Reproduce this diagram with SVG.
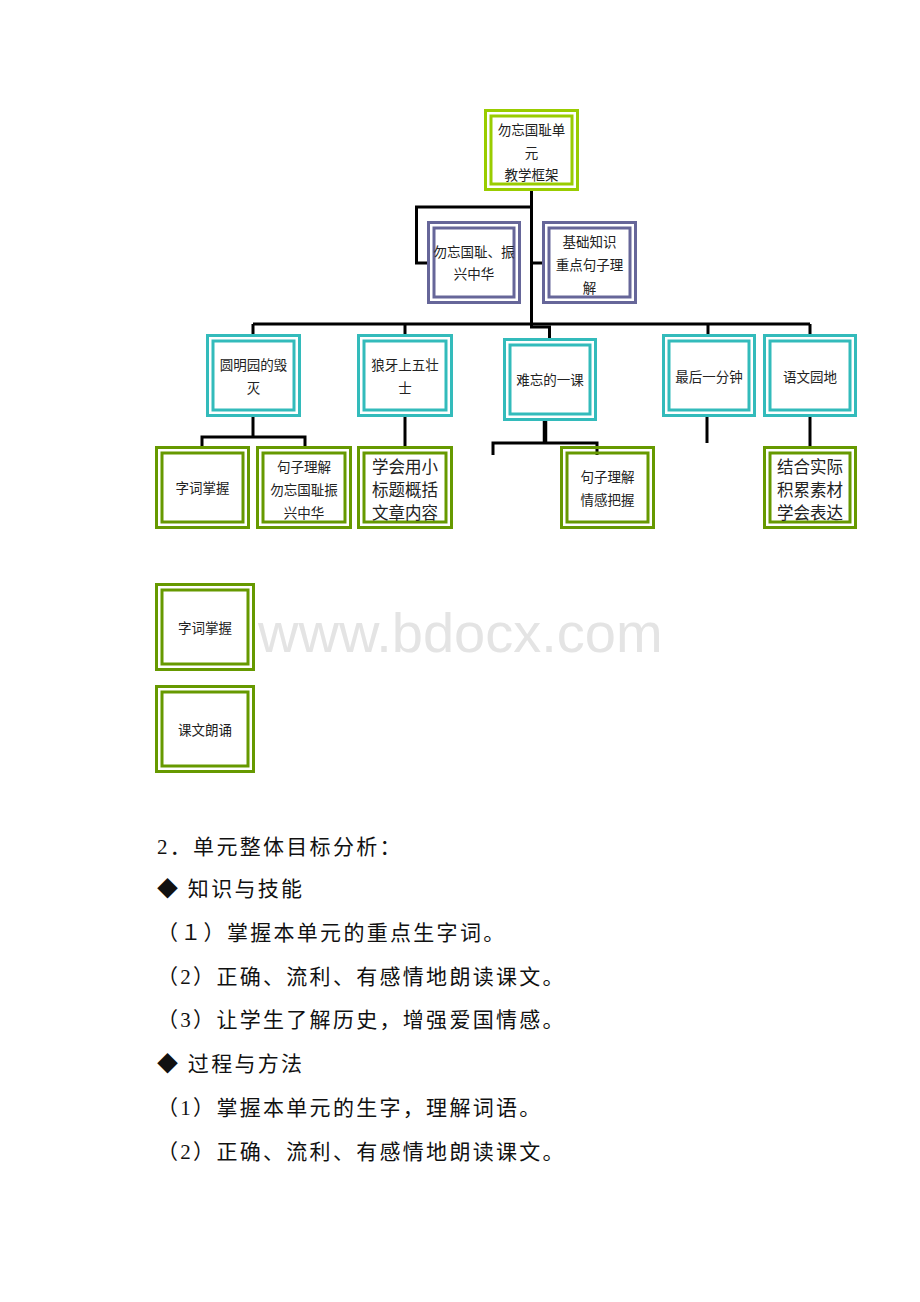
<svg xmlns="http://www.w3.org/2000/svg" width="920" height="1302" viewBox="0 0 920 1302">
<style>
.bg{fill:#ffffff}
rect.o,rect.i{fill:none;stroke-width:3}
.g1 rect{stroke:#99cc00}
.pp rect{stroke:#666699}
.tl rect{stroke:#33bbbb}
.g2 rect{stroke:#669900}
.t{font-family:"Liberation Serif","Noto Sans CJK SC",serif;font-size:13.5px;fill:#222;text-anchor:middle;dominant-baseline:central}
.tb{font-size:16.5px}
.c{fill:none;stroke:#000;stroke-width:3}
.body{font-family:"Liberation Serif","Noto Sans CJK SC",serif;font-size:21px;letter-spacing:2.3px;fill:#111;dominant-baseline:central}
.wm{font-family:"Liberation Sans",Arial,sans-serif;font-size:56px;fill:#e4e4e4}
</style>
<rect class="bg" x="0" y="0" width="920" height="1302"/>
<text class="wm" x="258" y="652">www.bdocx.com</text>
<g id="connectors">
<path class="c" d="M531.5 191 V324"/>
<path class="c" d="M531.5 207 H416.5 V263 H428"/>
<path class="c" d="M531.5 263 H543"/>
<path class="c" d="M253 324 H810"/>
<path class="c" d="M253 324 V335"/>
<path class="c" d="M405 324 V335"/>
<path class="c" d="M531.5 324 V327 H549.5 V339"/>
<path class="c" d="M708 324 V335"/>
<path class="c" d="M810 324 V335"/>
<path class="c" d="M253 417 V437"/>
<path class="c" d="M202 448 V437 H305 V448"/>
<path class="c" d="M405 417 V447"/>
<path class="c" style="stroke-width:4.5" d="M545 421 V443"/>
<path class="c" d="M493 455 V443 H597 V455"/>
<path class="c" d="M707 417 V443"/>
<path class="c" d="M810 417 V448"/>
</g>
<g id="n_top" class="g1">
<rect class="o" x="485.5" y="110.5" width="92" height="79" fill="#fff"/>
<rect class="i" x="491" y="116" width="81" height="68"/>
<text class="t" x="531.5" y="130">勿忘国耻单</text>
<text class="t" x="531.5" y="153">元</text>
<text class="t" x="531.5" y="175">教学框架</text>
</g>
<g id="n_p1" class="pp">
<rect class="o" x="428.5" y="222.5" width="91" height="80" fill="#fff"/>
<rect class="i" x="434" y="228" width="80" height="69"/>
<text class="t" x="474" y="252">勿忘国耻、振</text>
<text class="t" x="474" y="274">兴中华</text>
</g>
<g id="n_p2" class="pp">
<rect class="o" x="543.5" y="222.5" width="92" height="80" fill="#fff"/>
<rect class="i" x="549" y="228" width="81" height="69"/>
<text class="t" x="589.5" y="242">基础知识</text>
<text class="t" x="589.5" y="265">重点句子理</text>
<text class="t" x="589.5" y="288">解</text>
</g>
<g id="n_t1" class="tl">
<rect class="o" x="207.5" y="335.5" width="92" height="80" fill="#fff"/>
<rect class="i" x="213" y="341" width="81" height="69"/>
<text class="t" x="253.5" y="365">圆明园的毁</text>
<text class="t" x="253.5" y="388">灭</text>
</g>
<g id="n_t2" class="tl">
<rect class="o" x="358.5" y="335.5" width="93" height="80" fill="#fff"/>
<rect class="i" x="364" y="341" width="82" height="69"/>
<text class="t" x="405" y="365">狼牙上五壮</text>
<text class="t" x="405" y="388">士</text>
</g>
<g id="n_t3" class="tl">
<rect class="o" x="504.5" y="339.5" width="91" height="80" fill="#fff"/>
<rect class="i" x="510" y="345" width="80" height="69"/>
<text class="t" x="550" y="380">难忘的一课</text>
</g>
<g id="n_t4" class="tl">
<rect class="o" x="663.5" y="335.5" width="91" height="80" fill="#fff"/>
<rect class="i" x="669" y="341" width="80" height="69"/>
<text class="t" x="709" y="377">最后一分钟</text>
</g>
<g id="n_t5" class="tl">
<rect class="o" x="764.5" y="335.5" width="91" height="80" fill="#fff"/>
<rect class="i" x="770" y="341" width="80" height="69"/>
<text class="t" x="810" y="377">语文园地</text>
</g>
<g id="n_g1" class="g2">
<rect class="o" x="156.5" y="447.5" width="92" height="80" fill="#fff"/>
<rect class="i" x="162" y="453" width="81" height="69"/>
<text class="t" x="202.5" y="488">字词掌握</text>
</g>
<g id="n_g2" class="g2">
<rect class="o" x="257.5" y="447.5" width="93" height="80" fill="#fff"/>
<rect class="i" x="263" y="453" width="82" height="69"/>
<text class="t" x="304" y="467">句子理解</text>
<text class="t" x="304" y="490">勿忘国耻振</text>
<text class="t" x="304" y="513">兴中华</text>
</g>
<g id="n_g3" class="g2">
<rect class="o" x="358.5" y="447.5" width="93" height="80" fill="#fff"/>
<rect class="i" x="364" y="453" width="82" height="69"/>
<text class="t tb" x="405" y="467">学会用小</text>
<text class="t tb" x="405" y="490">标题概括</text>
<text class="t tb" x="405" y="513">文章内容</text>
</g>
<g id="n_g4" class="g2">
<rect class="o" x="561.5" y="447.5" width="92" height="80" fill="#fff"/>
<rect class="i" x="567" y="453" width="81" height="69"/>
<text class="t" x="607.5" y="477">句子理解</text>
<text class="t" x="607.5" y="500">情感把握</text>
</g>
<g id="n_g5" class="g2">
<rect class="o" x="764.5" y="447.5" width="91" height="80" fill="#fff"/>
<rect class="i" x="770" y="453" width="80" height="69"/>
<text class="t tb" x="810" y="467">结合实际</text>
<text class="t tb" x="810" y="490">积累素材</text>
<text class="t tb" x="810" y="513">学会表达</text>
</g>
<g id="n_g6" class="g2">
<rect class="o" x="156.5" y="584.5" width="97" height="85" fill="#fff"/>
<rect class="i" x="162" y="590" width="86" height="74"/>
<text class="t" x="205" y="628">字词掌握</text>
</g>
<g id="n_g7" class="g2">
<rect class="o" x="156.5" y="686.5" width="97" height="85" fill="#fff"/>
<rect class="i" x="162" y="692" width="86" height="74"/>
<text class="t" x="205" y="730">课文朗诵</text>
</g>
<g id="body">
<text class="body" x="157" y="847">2．单元整体目标分析：</text>
<text class="body" x="157" y="889">◆ 知识与技能</text>
<text class="body" x="157" y="933">（１）掌握本单元的重点生字词。</text>
<text class="body" x="157" y="977">（2）正确、流利、有感情地朗读课文。</text>
<text class="body" x="157" y="1020">（3）让学生了解历史，增强爱国情感。</text>
<text class="body" x="157" y="1064">◆ 过程与方法</text>
<text class="body" x="157" y="1108">（1）掌握本单元的生字，理解词语。</text>
<text class="body" x="157" y="1152">（2）正确、流利、有感情地朗读课文。</text>
</g>
</svg>
